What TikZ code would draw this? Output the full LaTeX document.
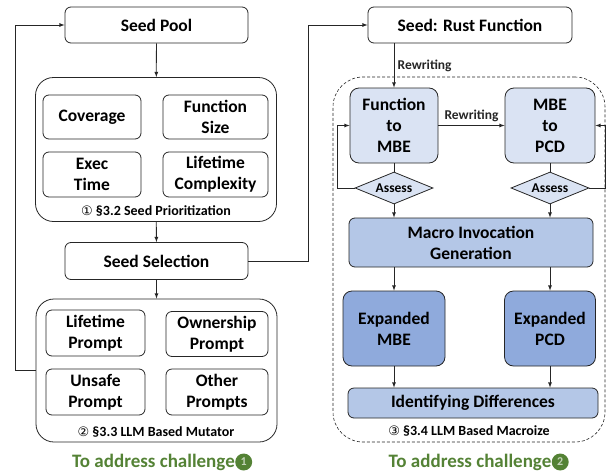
\documentclass[tikz,border=0pt]{standalone}
\usepackage{fontspec}
\setmainfont{Carlito}
\newfontfamily\symfont{DejaVu Sans}
\usepackage{xcolor}
\usepackage{tikz}
\usetikzlibrary{arrows,shapes,positioning}
\usetikzlibrary{calc}

\definecolor{paleblue}{HTML}{DAE3F3}
\definecolor{midblue}{HTML}{B4C7E7}
\definecolor{deepblue}{HTML}{8FAADC}
\definecolor{chalgreen}{HTML}{548235}

\begin{document}
\begin{tikzpicture}[x=1pt,y=-1pt,
    box/.style={rectangle, rounded corners=6pt, draw=black!85, line width=0.8pt, align=center, font=\fontsize{17.5}{21}\selectfont\bfseries, inner sep=1pt},
    group/.style={rectangle, rounded corners=18pt, draw=black!85, line width=0.8pt},
    macrogroup/.style={rectangle, rounded corners=30pt, draw=black!85, densely dashed, line width=0.6pt},
    assessbox/.style={diamond, draw=black!85, fill=paleblue, line width=0.8pt, aspect=2.4, inner sep=0pt, minimum width=78pt, minimum height=32pt, font=\fontsize{13.5}{15}\selectfont\bfseries},
    tag/.style={font=\fontsize{14}{16}\selectfont\bfseries},
    challenge/.style={font=\fontsize{19}{22}\selectfont\bfseries, text=chalgreen, inner sep=0pt},
    dot/.style={circle, fill=chalgreen, text=chalgreen!35!white, inner sep=0pt, minimum size=17pt, font=\fontsize{12}{12}\selectfont\bfseries},
    link/.style={-latex, line width=0.8pt, black!85}]
\useasboundingbox (0,0) rectangle (607,471);

% left column
\node[box, minimum width=183pt, minimum height=36pt] (pool) at (156.5,25) {Seed Pool};
\node[group, minimum width=241pt, minimum height=144pt] (prio) at (156,149.5) {};
\node[box, minimum width=98pt, minimum height=44pt] (cov) at (92,117) {Coverage};
\node[box, minimum width=105pt, minimum height=44pt] (fsize) at (215.5,117) {Function\\Size};
\node[box, minimum width=98pt, minimum height=45pt] (exec) at (92,174.5) {Exec\\Time};
\node[box, minimum width=105pt, minimum height=45pt] (life) at (215.5,174.5) {Lifetime\\Complexity};
\node[tag] (priolabel) at (156,211) {{\symfont\fontsize{13}{15}\selectfont\mdseries ①} §3.2 Seed Prioritization};

\node[box, minimum width=183pt, minimum height=37pt] (sel) at (156.5,261) {Seed Selection};
\node[group, minimum width=241pt, minimum height=143pt] (mut) at (156.5,370.5) {};
\node[box, minimum width=99pt, minimum height=46pt] (lprompt) at (95.5,333) {Lifetime\\Prompt};
\node[box, minimum width=102pt, minimum height=45pt] (oprompt) at (217,334) {Ownership\\Prompt};
\node[box, minimum width=99pt, minimum height=46pt] (uprompt) at (95.5,392) {Unsafe\\Prompt};
\node[box, minimum width=102pt, minimum height=46pt] (others) at (217,392) {Other\\Prompts};
\node[tag] (mutlabel) at (156,432) {{\symfont\fontsize{13}{15}\selectfont\mdseries ②} §3.3 LLM Based Mutator};

\node[challenge] (chal1) at (153.5,462) {To address challenge};
\node[dot, right=0pt of chal1] (dot1) {1};

% right column
\node[box, minimum width=204pt, minimum height=36pt] (rust) at (470,25) {Seed: Rust Function};
\node[macrogroup, minimum width=272pt, minimum height=365pt] (macro) at (469,259.5) {};
\node[box, fill=paleblue, rounded corners=9pt, minimum width=88pt, minimum height=75pt] (ftm) at (394,125.5) {Function\\to\\MBE};
\node[box, fill=paleblue, rounded corners=9pt, minimum width=90pt, minimum height=75pt] (mtp) at (550,125.5) {MBE\\to\\PCD};
\node[assessbox] (as1) at (394,188) {Assess};
\node[assessbox] (as2) at (550,188) {Assess};
\node[box, fill=midblue, minimum width=244pt, minimum height=49pt] (minv) at (471,242.5) {Macro Invocation\\Generation};
\node[box, fill=deepblue, rounded corners=9pt, minimum width=102pt, minimum height=75pt] (expm) at (394,328.5) {Expanded\\MBE};
\node[box, fill=deepblue, rounded corners=9pt, minimum width=91pt, minimum height=75pt] (expp) at (550,328.5) {Expanded\\PCD};
\node[box, fill=midblue, minimum width=250pt, minimum height=30pt] (ident) at (473,403) {Identifying Differences};
\node[tag] (macrolabel) at (469,431) {{\symfont\fontsize{13}{15}\selectfont\mdseries ③} §3.4 LLM Based Macroize};

\node[challenge] (chal2) at (470,462) {To address challenge};
\node[dot, right=0pt of chal2] (dot2) {2};

% links
\draw[link] (pool) -- (prio);
\draw[link] (prio) -- (sel);
\draw[link] (sel) -- (mut);
\draw[link] (mut.west) -- ++(-20,0) |- (pool.west);
\draw[link] (sel.east) -- ++(60,0) |- (rust.west);

\draw[link] (ftm.north |- rust.south) -- node[right, font=\fontsize{13.5}{15}\selectfont\bfseries] {Rewriting} (ftm.north);
\draw[link] (ftm.east) -- node[above, font=\fontsize{13.5}{15}\selectfont\bfseries] {Rewriting} (mtp.west);
\draw[line width=0.8pt, black!85] (ftm.south) -- (as1.north);
\draw[line width=0.8pt, black!85] (mtp.south) -- (as2.north);
\draw[link] (as1.west) -- ++(-17,0) |- (ftm.west);
\draw[link] (as2.east) -- ++(16,0) |- (mtp.east);
\draw[link] (as1.south) -- (as1.south |- minv.north);
\draw[link] (as2.south) -- (as2.south |- minv.north);
\draw[link] (expm.north |- minv.south) -- (expm.north);
\draw[link] (expp.north |- minv.south) -- (expp.north);
\draw[link] (expm.south) -- (expm.south |- ident.north);
\draw[link] (expp.south) -- (expp.south |- ident.north);
\end{tikzpicture}
\end{document}
